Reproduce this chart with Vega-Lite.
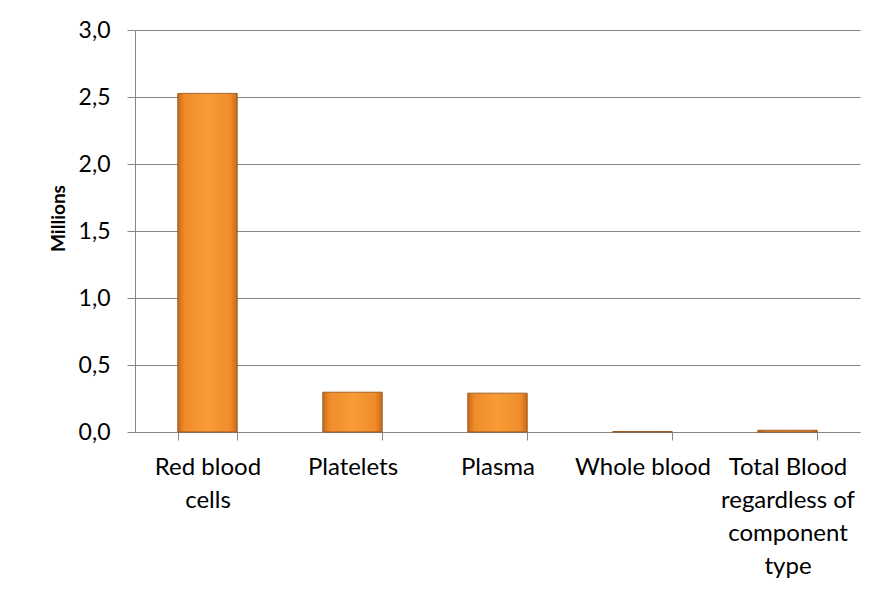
{
  "$schema": "https://vega.github.io/schema/vega-lite/v6.json",
  "width": 725,
  "height": 402,
  "autosize": {"type": "none"},
  "padding": {"left": 135, "top": 30, "right": 25, "bottom": 163},
  "background": "white",
  "config": {
    "view": {"stroke": null},
    "font": "Lato"
  },
  "data": {
    "values": [
      {"component": "Red blood cells", "value": 2.527},
      {"component": "Platelets", "value": 0.297},
      {"component": "Plasma", "value": 0.29},
      {"component": "Whole blood", "value": 0.003},
      {"component": "Total Blood regardless of component type", "value": 0.013}
    ]
  },
  "mark": {
    "type": "bar",
    "stroke": "#8a4a10",
    "strokeWidth": 0.8,
    "color": {
      "gradient": "linear",
      "x1": 0, "y1": 0, "x2": 1, "y2": 0,
      "stops": [
        {"offset": 0, "color": "#cc6a18"},
        {"offset": 0.12, "color": "#f08c2c"},
        {"offset": 0.5, "color": "#f89c36"},
        {"offset": 0.88, "color": "#f08c2c"},
        {"offset": 1, "color": "#cc6a18"}
      ]
    }
  },
  "encoding": {
    "x": {
      "field": "component",
      "type": "nominal",
      "sort": null,
      "scale": {"paddingInner": 0.59, "paddingOuter": 0.295},
      "axis": {
        "title": null,
        "labelAngle": 0,
        "labelFont": "Lato",
        "labelFontSize": 24,
        "labelColor": "#000000",
        "labelLineHeight": 33,
        "labelPadding": 15,
        "labelBaseline": "top",
        "labelLimit": 0,
        "domainColor": "#868686",
        "tickColor": "#868686",
        "tickSize": 8,
        "tickBand": "extent",
        "labelExpr": "datum.label == 'Red blood cells' ? ['Red blood', 'cells'] : datum.label == 'Total Blood regardless of component type' ? ['Total Blood', 'regardless of', 'component', 'type'] : datum.label"
      }
    },
    "y": {
      "field": "value",
      "type": "quantitative",
      "scale": {"domain": [0, 3]},
      "axis": {
        "title": "Millions",
        "titleFont": "Lato",
        "titleFontSize": 19,
        "titleFontWeight": "bold",
        "titleColor": "#000000",
        "titleX": -77,
        "titleY": 188,
        "titleAlign": "center",
        "titleBaseline": "middle",
        "values": [0, 0.5, 1, 1.5, 2, 2.5, 3],
        "labelExpr": "replace(format(datum.value, '.1f'), '.', ',')",
        "labelFont": "Lato",
        "labelFontSize": 23,
        "labelColor": "#000000",
        "labelPadding": 17,
        "tickSize": 8,
        "tickColor": "#868686",
        "domainColor": "#868686",
        "gridColor": "#868686",
        "grid": true
      }
    }
  }
}
